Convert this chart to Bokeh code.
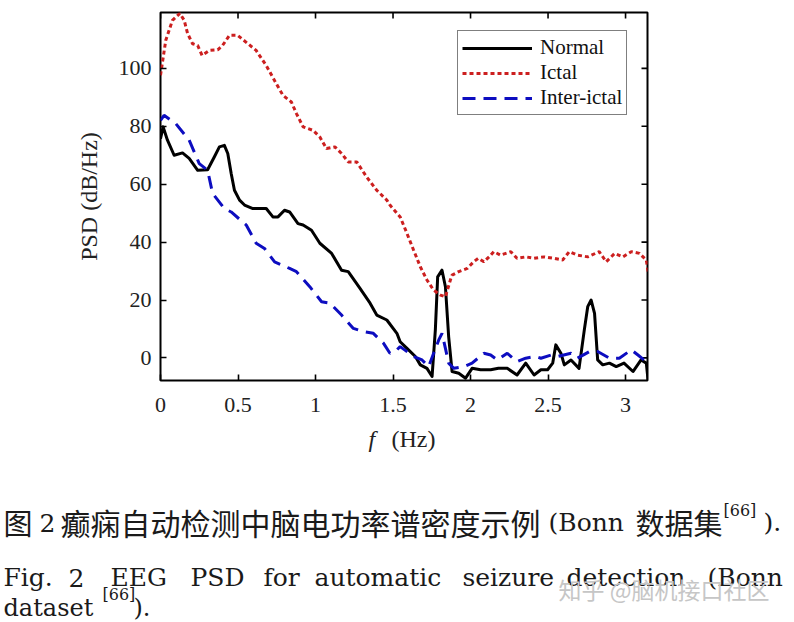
import math
from bokeh.plotting import figure
from bokeh.layouts import column
from bokeh.models import Range1d, FixedTicker, Label, Legend, LegendItem
from bokeh.embed import file_html
from bokeh.resources import INLINE

# ---------------- data ----------------
normal_f = [0, 0.017, 0.045, 0.088, 0.142, 0.185, 0.24, 0.304, 0.347, 0.38,
            0.412, 0.434, 0.456, 0.477, 0.51, 0.542, 0.596, 0.682, 0.725, 0.758,
            0.80, 0.833, 0.887, 0.92, 0.974, 1.028, 1.104, 1.168, 1.211, 1.287,
            1.352, 1.395, 1.46, 1.525, 1.546, 1.59, 1.644, 1.676, 1.719, 1.752,
            1.773, 1.788, 1.816, 1.838, 1.859, 1.881, 1.924, 1.968, 2.01, 2.065,
            2.13, 2.18, 2.237, 2.30, 2.356, 2.41, 2.454, 2.497, 2.53, 2.55,
            2.583, 2.605, 2.648, 2.70, 2.734, 2.756, 2.778, 2.80, 2.82, 2.853,
            2.896, 2.94, 2.99, 3.048, 3.10, 3.134, 3.145]
normal_psd = [75.7, 79.8, 75.2, 70.0, 70.8, 68.9, 64.8, 65.0, 69.4, 72.9,
              73.4, 70.6, 63.7, 57.9, 54.5, 52.8, 51.6, 51.6, 48.7, 48.7,
              51.0, 50.4, 46.4, 45.9, 44.1, 39.6, 36.1, 30.3, 29.8, 24.0,
              18.9, 14.8, 13.1, 8.5, 5.6, 3.3, 0.5, -2.4, -3.6, -6.4,
              9.7, 28.0, 30.3, 24.6, 7.3, -4.7, -5.3, -7.0, -3.6, -4.1,
              -4.1, -3.6, -3.6, -5.9, -1.8, -5.9, -4.1, -4.1, -1.8, 4.5,
              1.6, -2.4, -0.7, -3.6, 9.7, 17.7, 20.0, 15.4, -0.7, -2.4,
              -1.8, -3.0, -1.8, -4.7, -0.7, -1.8, -7.6]

ictal_f = [0, 0.034, 0.077, 0.125, 0.153, 0.175, 0.207, 0.24, 0.268, 0.315,
           0.369, 0.40, 0.445, 0.498, 0.553, 0.617, 0.682, 0.747, 0.79, 0.844,
           0.877, 0.92, 0.984, 1.028, 1.071, 1.125, 1.168, 1.211, 1.266, 1.33,
           1.395, 1.46, 1.48, 1.546, 1.59, 1.633, 1.676, 1.719, 1.762, 1.806,
           1.838, 1.87, 1.881, 1.924, 1.979, 2.02, 2.05, 2.086, 2.12, 2.15,
           2.194, 2.26, 2.30, 2.356, 2.41, 2.475, 2.54, 2.594, 2.637, 2.69,
           2.756, 2.83, 2.875, 2.93, 2.983, 3.037, 3.09, 3.134, 3.145]
ictal_psd = [97.6, 109.7, 116.6, 119.0, 116.6, 112.0, 108.5, 107.9, 104.5, 106.2,
             106.4, 107.9, 111.4, 111.4, 109.0, 106.2, 101.0, 94.7, 90.7, 88.4,
             84.4, 79.8, 78.6, 76.3, 72.3, 72.9, 70.6, 67.7, 67.7, 62.5,
             57.9, 54.5, 52.8, 48.7, 43.0, 37.2, 31.5, 26.9, 23.4, 21.7,
             21.1, 26.9, 28.6, 29.8, 30.9, 33.2, 34.4, 33.2, 34.9, 36.7,
             35.5, 36.7, 34.4, 34.9, 34.4, 34.9, 34.4, 33.8, 36.7, 35.5,
             34.9, 36.7, 33.2, 36.1, 34.9, 36.7, 36.1, 33.8, 29.8]

inter_f = [0, 0.023, 0.099, 0.185, 0.25, 0.304, 0.336, 0.412, 0.456, 0.553,
           0.617, 0.671, 0.736, 0.833, 0.877, 0.963, 1.039, 1.093, 1.168, 1.244,
           1.309, 1.373, 1.438, 1.48, 1.525, 1.546, 1.633, 1.687, 1.73, 1.762,
           1.795, 1.816, 1.838, 1.859, 1.892, 1.957, 2.01, 2.086, 2.13, 2.173,
           2.237, 2.30, 2.356, 2.42, 2.454, 2.52, 2.562, 2.648, 2.69, 2.767,
           2.82, 2.896, 2.96, 3.037, 3.08, 3.134, 3.145]
inter_psd = [82.0, 83.8, 80.9, 75.2, 67.1, 64.8, 56.8, 51.6, 50.4, 45.9,
             39.6, 37.8, 33.2, 30.9, 29.8, 24.6, 19.4, 18.9, 14.8, 10.2,
             9.1, 8.5, 5.1, 1.6, 2.8, 3.9, 0.5, -0.7, -3.0, 1.6,
             6.2, 8.5, 3.3, -1.8, -3.6, -3.0, -1.8, 1.6, 1.0, -0.7,
             1.6, -1.3, -0.1, 0.5, -0.1, 1.0, 0.5, 1.6, -0.1, 2.2,
             2.2, -0.1, -0.1, 2.8, 1.0, -1.3, -1.8]

series_names = ["Normal", "Ictal", "Inter-ictal"]
x_ticks = [0, 0.5, 1, 1.5, 2, 2.5, 3]
x_tick_labels = ["0", "0.5", "1", "1.5", "2", "2.5", "3"]
y_ticks = [0, 20, 40, 60, 80, 100]
y_tick_labels = ["0", "20", "40", "60", "80", "100"]

X_RANGE = (0, 3.1416)
Y_RANGE = (-7.8, 119.3)

# ---------------- layout (page pixels) ----------------
PAGE_W, PAGE_H = 794, 622
FRAME_L, FRAME_T, FRAME_W, FRAME_H = 160, 12, 487, 368
CHART_H = 419

SERIF = "Liberation Serif"

p = figure(width=PAGE_W, height=CHART_H, output_backend="svg", toolbar_location=None,
           x_range=Range1d(*X_RANGE), y_range=Range1d(*Y_RANGE),
           min_border_left=FRAME_L, min_border_top=FRAME_T,
           min_border_right=PAGE_W - FRAME_L - FRAME_W,
           min_border_bottom=CHART_H - FRAME_T - FRAME_H)
p.background_fill_color = "white"
p.border_fill_color = "white"
p.outline_line_color = "black"
p.outline_line_width = 2
p.xgrid.visible = False
p.ygrid.visible = False


def style_axis(ax, ticks, labels):
    ax.ticker = FixedTicker(ticks=ticks)
    ax.major_label_overrides = {t: l for t, l in zip(ticks, labels)}
    ax.axis_line_color = None
    ax.major_tick_in = 6
    ax.major_tick_out = 0
    ax.major_tick_line_width = 1.6
    ax.major_tick_line_color = "black"
    ax.minor_tick_line_color = None
    ax.major_label_text_font = SERIF
    ax.major_label_text_color = "#222222"
    ax.major_label_text_font_size = "22px"


style_axis(p.xaxis[0], x_ticks, x_tick_labels)
style_axis(p.yaxis[0], y_ticks, y_tick_labels)
p.xaxis[0].major_label_standoff = 17
p.yaxis[0].major_label_standoff = 9
p.yaxis[0].axis_label = "PSD (dB/Hz)"
p.yaxis[0].axis_label_text_font = SERIF
p.yaxis[0].axis_label_text_font_style = "normal"
p.yaxis[0].axis_label_text_font_size = "24px"
p.yaxis[0].axis_label_text_color = "#222222"
p.yaxis[0].axis_label_standoff = 14

# inward ticks on the top and right edges of the box
p.ray(x=x_ticks, y=[Y_RANGE[1]] * len(x_ticks), length=6, length_units="screen",
      angle=-math.pi / 2, line_color="black", line_width=1.6)
p.ray(x=[X_RANGE[1]] * len(y_ticks), y=y_ticks, length=6, length_units="screen",
      angle=math.pi, line_color="black", line_width=1.6)

# ---------------- lines ----------------
r_norm = p.line(normal_f, normal_psd, line_color="black", line_width=3,
                line_join="round")
r_ict = p.line(ictal_f, ictal_psd, line_color="#cc1f1f", line_width=3,
               line_dash="4 3")
r_int = p.line(inter_f, inter_psd, line_color="#0d0dc0", line_width=3,
               line_dash="13 8")

legend = Legend(items=[LegendItem(label=series_names[0], renderers=[r_norm]),
                       LegendItem(label=series_names[1], renderers=[r_ict]),
                       LegendItem(label=series_names[2], renderers=[r_int])],
                location=(297, 265))
legend.label_text_font = SERIF
legend.label_text_font_size = "21px"
legend.label_text_color = "#111111"
legend.label_height = 22
legend.glyph_height = 22
legend.glyph_width = 70
legend.label_standoff = 8
legend.spacing = 0
legend.padding = 4
legend.margin = 0
legend.border_line_color = "black"
legend.border_line_width = 1.6
legend.background_fill_alpha = 1
p.add_layout(legend, "center")

# ---------------- lower panel: axis title and captions (page pixels) ----------------
q = figure(width=PAGE_W, height=PAGE_H - CHART_H, output_backend="svg",
           toolbar_location=None, x_axis_type=None, y_axis_type=None,
           x_range=Range1d(0, PAGE_W), y_range=Range1d(PAGE_H, CHART_H),
           min_border_left=0, min_border_right=0, min_border_top=0, min_border_bottom=0)
q.outline_line_color = None
q.xgrid.visible = False
q.ygrid.visible = False
q.background_fill_color = "white"
q.border_fill_color = "white"

# keep each figure's frame where it is set (no frame alignment in the column)
p.frame_align = False
q.frame_align = False


def add_text(txt, px, py, font, size, style="normal", color="#1a1a1a",
             baseline="alphabetic", align="left"):
    q.add_layout(Label(x=px, y=py, text=txt, text_font=font,
                       text_font_size=f"{size}px", text_font_style=style,
                       text_color=color, text_baseline=baseline,
                       text_align=align))


# x-axis title: italic f + (Hz)
add_text("f", 368, 438, SERIF, 24, style="italic", color="#222222")
add_text("(Hz)", 391, 438, SERIF, 24, color="#222222")

CJK = "Noto Sans CJK SC"
CAP = "DejaVu Serif"
# Chinese caption
add_text("图", 3, 521, CJK, 29)
add_text("2", 39, 522, CAP, 25)
add_text("癫痫自动检测中脑电功率谱密度示例", 60, 521, CJK, 30)
add_text("(Bonn", 548, 522, CAP, 25)
add_text("数据集", 635, 521, CJK, 29)
add_text("[66]", 723, 510, CAP, 16)
add_text(").", 763, 522, CAP, 25)

# English caption, line 1 (justified words)
words = ["Fig.", "2", "EEG", "PSD", "for", "automatic", "seizure", "detection", "(Bonn"]
word_x = [3, 68, 110, 190, 263, 314, 462, 566, 707]
for w, wx in zip(words, word_x):
    add_text(w, wx, 577, CAP, 25)
# line 2
add_text("dataset", 3, 607, CAP, 24)
add_text("[66]", 102, 594, CAP, 16)
add_text(").", 133, 607, CAP, 24)

# watermark
add_text("知乎 @脑机接口社区", 558, 588, CJK, 23, color="#c6c6c6", baseline="middle")

layout = column(p, q, spacing=0)
open("out.html", "w").write(file_html(layout, INLINE))
